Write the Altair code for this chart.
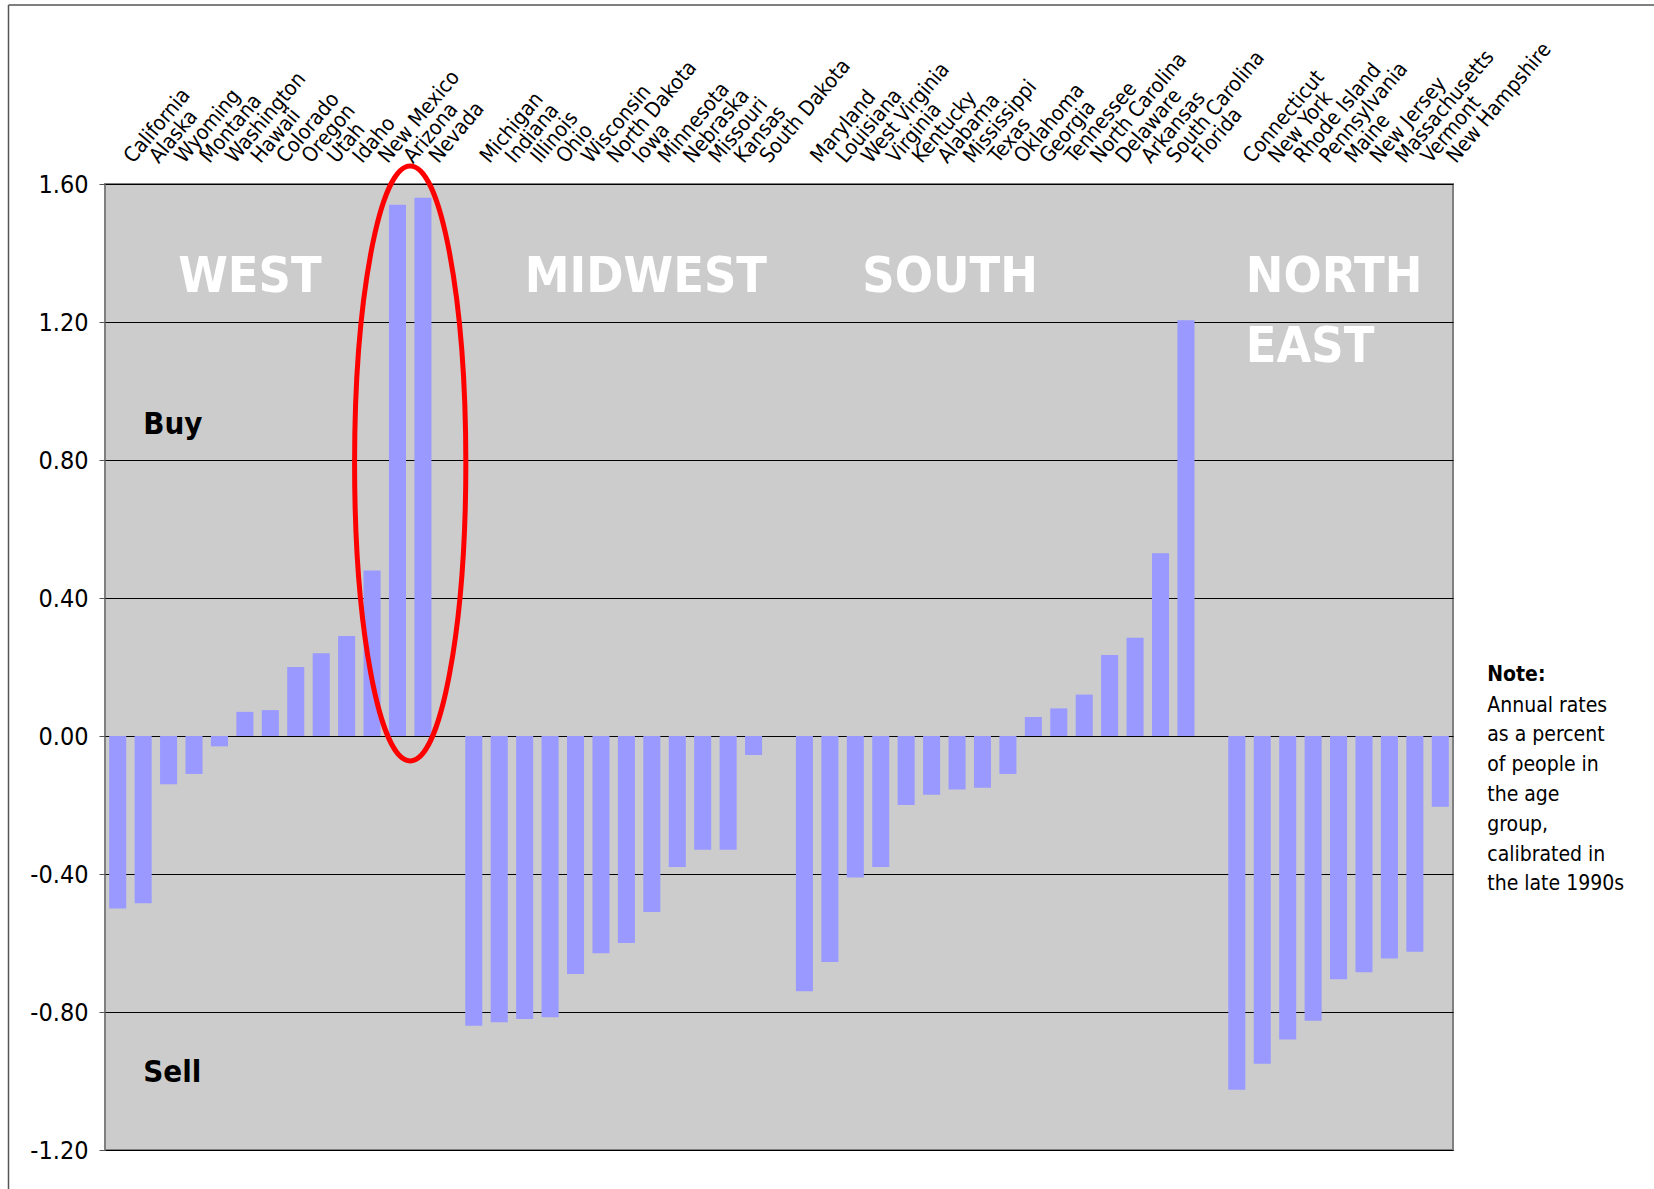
import altair as alt
import pandas as pd

# --- data: annual buy/sell rates by state, grouped by region ---
west = ["California", "Alaska", "Wyoming", "Montana", "Washington", "Hawaii", "Colorado",
        "Oregon", "Utah", "Idaho", "New Mexico", "Arizona", "Nevada"]
west_vals = [-0.50, -0.485, -0.14, -0.11, -0.03, 0.07, 0.075, 0.20, 0.24, 0.29, 0.48, 1.54, 1.56]

midwest = ["Michigan", "Indiana", "Illinois", "Ohio", "Wisconsin", "North Dakota", "Iowa",
           "Minnesota", "Nebraska", "Missouri", "Kansas", "South Dakota"]
midwest_vals = [-0.84, -0.83, -0.82, -0.815, -0.69, -0.63, -0.60, -0.51, -0.38, -0.33, -0.33, -0.055]

south = ["Maryland", "Louisiana", "West Virginia", "Virginia", "Kentucky", "Alabama",
         "Mississippi", "Texas", "Oklahoma", "Georgia", "Tennessee", "North Carolina",
         "Delaware", "Arkansas", "South Carolina", "Florida"]
south_vals = [-0.74, -0.655, -0.41, -0.38, -0.20, -0.17, -0.155, -0.15, -0.11,
              0.055, 0.08, 0.12, 0.235, 0.285, 0.53, 1.205]

northeast = ["Connecticut", "New York", "Rhode Island", "Pennsylvania", "Maine",
             "New Jersey", "Massachusetts", "Vermont", "New Hampshire"]
northeast_vals = [-1.025, -0.95, -0.88, -0.825, -0.705, -0.685, -0.645, -0.625, -0.205]

y_ticks = [-1.2, -0.8, -0.4, 0.0, 0.4, 0.8, 1.2, 1.6]

note_lines = ["Annual rates", "as a percent", "of people in", "the age", "group,",
              "calibrated in", "the late 1990s"]

# category order, with an empty slot between regions
order = west + ["_gap1"] + midwest + ["_gap2"] + south + ["_gap3"] + northeast

df = pd.DataFrame({
    "state": west + midwest + south + northeast,
    "value": west_vals + midwest_vals + south_vals + northeast_vals,
})

W, H = 1348, 966
STEP = W / len(order)

REG = "DejaVu Sans Condensed, DejaVu Sans"
BOLD = "DejaVu Sans Condensed, DejaVu Sans"

x_scale = alt.Scale(domain=order, paddingInner=0.33, paddingOuter=0.165)
y_scale = alt.Scale(domain=[-1.2, 1.6], nice=False)


def X(**kw):
    return alt.X("state:N", scale=x_scale, sort=order, **kw)


def Y(**kw):
    return alt.Y("value:Q", scale=y_scale, **kw)


bars = alt.Chart(df).mark_bar(color="#9999FF").encode(
    x=X(axis=alt.Axis(
        orient="top", title=None, ticks=False, domain=False, grid=False,
        labelAngle=310, labelAlign="left", labelBaseline="middle",
        labelPadding=24, labelOffset=11, labelFont=REG, labelFontSize=21,
        labelColor="black", labelOverlap=False,
        labelExpr="indexof(datum.label, '_') == 0 ? '' : datum.label",
    )),
    y=Y(axis=alt.Axis(
        values=y_ticks, title=None, domain=False,
        labelExpr="replace(format(datum.value, '.2f'), '\u2212', '-')",
        labelFont=REG, labelFontSize=25, labelColor="black", labelPadding=11,
        tickSize=6, tickColor="#555555",
        grid=True, gridColor="black", gridWidth=1, gridOpacity=1,
    )),
)

# red ellipse highlighting the Arizona / Nevada bars
a, k = 0.187, 0.5523
ellipse_path = (
    f"M 0 -1 C {k*a:.4f} -1 {a} -{k} {a} 0 "
    f"C {a} {k} {k*a:.4f} 1 0 1 "
    f"C -{k*a:.4f} 1 -{a} {k} -{a} 0 "
    f"C -{a} -{k} -{k*a:.4f} -1 0 -1 Z"
)
ring = alt.Chart(pd.DataFrame({"state": ["Arizona"], "value": [0.79]})).mark_point(
    shape=ellipse_path, size=595 ** 2, filled=False, stroke="#FF0000",
    strokeWidth=5, opacity=1, xOffset=STEP / 2,
).encode(x=X(), y=Y())


def text_layer(labels, anchors, values, **mark_kw):
    d = pd.DataFrame({"label": labels, "state": anchors, "value": values})
    return alt.Chart(d).mark_text(baseline="alphabetic", **mark_kw).encode(
        x=X(), y=Y(), text="label:N")


region_style = dict(font=BOLD, fontSize=50, fontWeight="bold", color="white")
west_lbl = text_layer(["WEST"], ["Hawaii"], [1.288], align="center", dx=5, **region_style)
mid_lbl = text_layer(["MIDWEST"], ["Minnesota"], [1.288], align="center", dx=-6, **region_style)
south_lbl = text_layer(["SOUTH"], ["Mississippi"], [1.288], align="center", dx=-7, **region_style)
ne_lbl = text_layer(["NORTH\nEAST"], ["Connecticut"], [1.286], align="left", dx=9,
                    lineBreak="\n", lineHeight=70, **region_style)

side_style = dict(font=BOLD, fontSize=31, fontWeight="bold", color="black", align="left")
buy_lbl = text_layer(["Buy"], ["Alaska"], [0.876], **side_style)
sell_lbl = text_layer(["Sell"], ["Alaska"], [-1.003], **side_style)

note_head = text_layer(["Note:"], ["New Hampshire"], [0.16], align="left", dx=47,
                       font=REG, fontSize=21, fontWeight="bold", color="black")
note_body = text_layer(["\n".join(note_lines)], ["New Hampshire"], [0.071], align="left",
                       dx=47, font=REG, fontSize=21, color="black",
                       lineBreak="\n", lineHeight=29.8)

# thin frame along the left and top edges of the figure
frame_left = alt.Chart(pd.DataFrame({"v": [0]})).mark_rule(
    color="#555555", strokeWidth=1.5).encode(
    x=alt.value(-96.5), y=alt.value(-179), y2=alt.value(H + 39))
frame_top = alt.Chart(pd.DataFrame({"v": [0]})).mark_rule(
    color="#555555", strokeWidth=1.5).encode(
    x=alt.value(-96.5), x2=alt.value(W + 201), y=alt.value(-179))

chart = alt.layer(
    bars, ring, west_lbl, mid_lbl, south_lbl, ne_lbl, buy_lbl, sell_lbl,
    note_head, note_body, frame_left, frame_top,
).properties(
    width=W, height=H,
    autosize=alt.AutoSizeParams(type="none"),
    padding={"left": 105, "top": 184, "right": 201, "bottom": 39},
    background="white",
).configure_view(
    fill="#CCCCCC", stroke="#808080", strokeWidth=2,
)

chart.save("out.html", embed_options={"renderer": "svg", "actions": False})
